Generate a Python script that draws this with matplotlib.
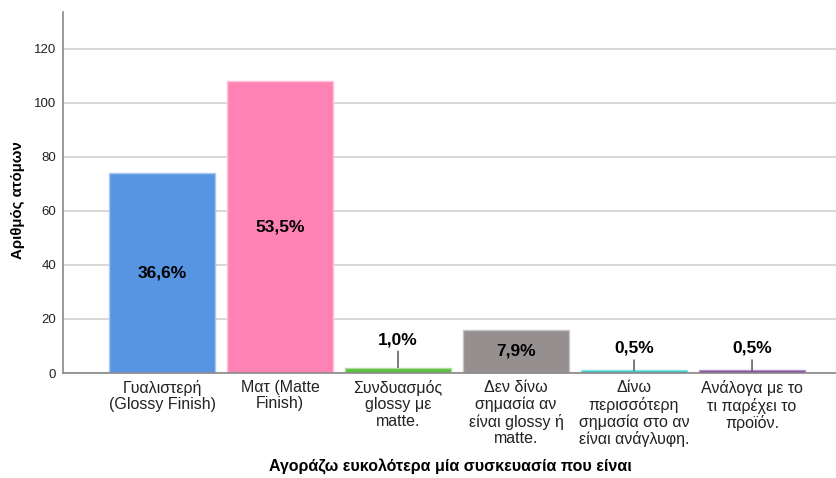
import matplotlib.pyplot as plt

plt.rcParams['font.family'] = ['Liberation Sans', 'DejaVu Sans']

categories = ["Γυαλιστερή\n(Glossy Finish)", "Ματ (Matte\nFinish)",
              "Συνδυασμός\nglossy με\nmatte.",
              "Δεν δίνω\nσημασία αν\nείναι glossy ή\nmatte.",
              "Δίνω\nπερισσότερη\nσημασία στο αν\nείναι ανάγλυφη.",
              "Ανάλογα με το\nτι παρέχει το\nπροϊόν."]
counts = [74, 108, 2, 16, 1, 1]
pct_labels = ["36,6%", "53,5%", "1,0%", "7,9%", "0,5%", "0,5%"]
colors = ["#5795e3", "#ff82b4", "#5cbf3c", "#958f8f", "#2ec4c4", "#7e3e9c"]
edges = ["#a9c9f0", "#ffc0d9", "#a9dd99", "#c8c4c4", "#8fe0e0", "#b895c8"]

fig = plt.figure(figsize=(8.37, 4.78), dpi=100)
ax = fig.add_axes([63 / 837, 1 - 373 / 478, 1 - 63 / 837, (373 - 12) / 478])

x = range(len(categories))
ax.bar(x, counts, width=0.9, color=colors, edgecolor=edges, linewidth=1, zorder=3)

for i, (c, lab) in enumerate(zip(counts, pct_labels)):
    if c >= 10:
        ax.text(i, c / 2, lab, ha='center', va='center', fontsize=12.5,
                fontweight='bold', zorder=4)
    else:
        off = 28 if c >= 2 else 22
        ax.annotate(lab, xy=(i, c), xytext=(0, off), textcoords='offset pixels',
                    ha='center', va='center', fontsize=12.5, fontweight='bold',
                    arrowprops=dict(arrowstyle='-', color='#444444', lw=1,
                                    shrinkA=1, shrinkB=0), zorder=4)

ax.set_xlim(-0.839, 5.72)
ax.set_ylim(0, 133.7)
ax.set_yticks(range(0, 121, 20))
ax.set_xticks(list(x))
ax.set_xticklabels(categories, color='#222222', linespacing=1.12)
ax.tick_params(axis='both', length=0)
ax.tick_params(axis='y', labelsize=9.5, labelcolor='#222222', pad=5)
ax.tick_params(axis='x', labelsize=11.5, pad=5)
ax.yaxis.grid(True, color='#d9d9d9', linewidth=1.5, zorder=0)
for s in ['top', 'right']:
    ax.spines[s].set_visible(False)
for s in ['left', 'bottom']:
    ax.spines[s].set_color('#888888')
    ax.spines[s].set_linewidth(1.2)
ax.spines['bottom'].set_zorder(5)

ax.set_ylabel("Αριθμός ατόμων", fontsize=10.8, fontweight='bold')
ax.yaxis.set_label_coords((25 - 63) / 774, (373 - 200) / 361)
fig.text((63 + 837) / 2 / 837, 1 - 467 / 478,
         "Αγοράζω ευκολότερα μία συσκευασία που είναι",
         ha='center', va='center', fontsize=11.5, fontweight='bold')

fig.savefig("out.png", dpi=100)
